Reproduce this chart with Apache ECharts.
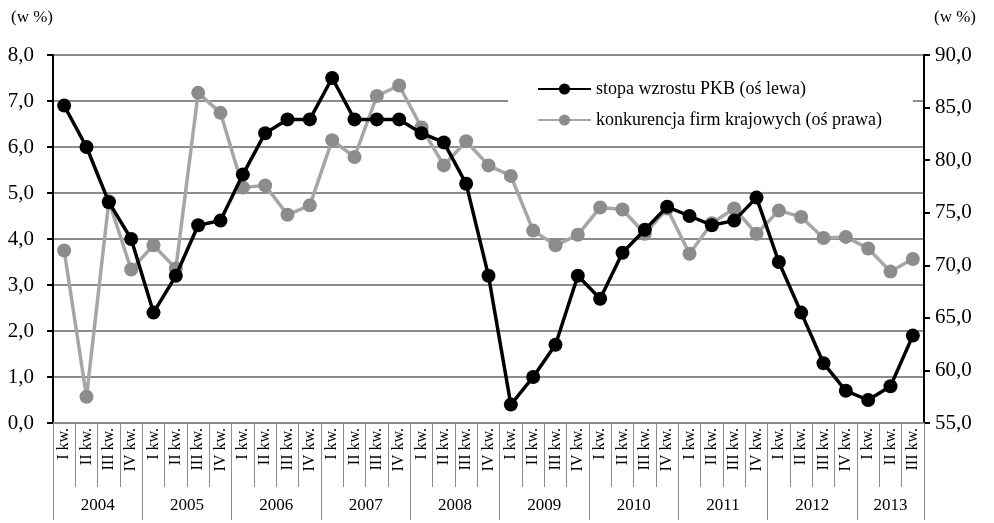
<!DOCTYPE html>
<html><head><meta charset="utf-8">
<script src="https://cdn.jsdelivr.net/npm/echarts@6/dist/echarts.min.js"></script>
<style>html,body{margin:0;padding:0;background:#fff}#c{width:994px;height:523px}</style>
</head><body><div id="c"></div>
<script>
var years = ['2004','2005','2006','2007','2008','2009','2010','2011','2012','2013'];
var quarterNames = ['I kw.','II kw.','III kw.','IV kw.'];
var quarterCounts = [4,4,4,4,4,4,4,4,4,3];
var gdp = [6.9,6.0,4.8,4.0, 2.4,3.2,4.3,4.4, 5.4,6.3,6.6,6.6, 7.5,6.6,6.6,6.6,
           6.3,6.1,5.2,3.2, 0.4,1.0,1.7,3.2, 2.7,3.7,4.2,4.7, 4.5,4.3,4.4,4.9,
           3.5,2.4,1.3,0.7, 0.5,0.8,1.9];
var competition = [71.4,57.5,76.1,69.6, 71.9,69.7,86.4,84.5, 77.4,77.6,74.8,75.7,
                   81.9,80.3,86.1,87.1, 83.1,79.5,81.8,79.5, 78.5,73.3,71.9,72.9,
                   75.5,75.3,73.0,75.4, 71.1,74.0,75.4,73.0, 75.2,74.6,72.6,72.7,
                   71.6,69.4,70.6];
var seriesNames = ['stopa wzrostu PKB (oś lewa)','konkurencja firm krajowych (oś prawa)'];
var unitLabel = '(w %)';

var quarters = [];
quarterCounts.forEach(function(n){ for (var i=0;i<n;i++) quarters.push(quarterNames[i]); });
// half-quarter boundary grid for the year axis
var yearAxisData = [];
var total = quarters.length * 2 + 1;
for (var k=0;k<total;k++) yearAxisData.push('');
var yearTickIdx = [0];
var pos = 0;
quarterCounts.forEach(function(n, i){
  yearAxisData[pos + n] = years[i];
  pos += 2*n;
  yearTickIdx.push(pos);
});

var font = 'Liberation Serif';
var fmt = function(v){return v.toFixed(1).replace('.',',');};
var chart = echarts.init(document.getElementById('c'), null, {renderer:'canvas'});
chart.setOption({
  animation:false,
  textStyle:{fontFamily:font},
  grid:{left:53,right:70,top:55,bottom:100},
  legend:{
    orient:'vertical', left:508, top:75, padding:[5,31,5,29],
    backgroundColor:'#fff', itemGap:13, itemWidth:53, itemHeight:14,
    textStyle:{fontFamily:font,fontSize:18,color:'#000'},
    data:seriesNames
  },
  xAxis:[{
    type:'category', data:quarters, boundaryGap:true,
    axisLine:{show:true,lineStyle:{color:'#8c8c8c',width:2}},
    axisTick:{show:true,interval:0,length:64,lineStyle:{color:'#8c8c8c',width:1}},
    axisLabel:{interval:0,rotate:90,margin:5,fontFamily:font,fontSize:16,color:'#000'},
    splitLine:{show:false}
  },{
    type:'category', data:yearAxisData, boundaryGap:false, position:'bottom',
    axisLine:{show:false},
    axisTick:{show:true,length:97,interval:function(i){return yearTickIdx.indexOf(i)>=0;},
      lineStyle:{color:'#8c8c8c',width:1}},
    axisLabel:{interval:function(i,v){return v!=='';},margin:74,fontFamily:font,fontSize:17,color:'#000'},
    splitLine:{show:false}
  }],
  yAxis:[{
    type:'value', min:0, max:8, interval:1, position:'left',
    name:unitLabel, nameLocation:'end', nameGap:29,
    nameTextStyle:{fontFamily:font,fontSize:17,color:'#000',align:'right',padding:[0,0,0,0]},
    axisLine:{show:true,lineStyle:{color:'#000',width:2}},
    axisTick:{show:true,length:6,lineStyle:{color:'#000',width:2}},
    axisLabel:{formatter:fmt,fontFamily:font,fontSize:21,color:'#000',margin:19},
    splitLine:{show:true,lineStyle:{color:'#8c8c8c',width:2}}
  },{
    type:'value', min:55, max:90, interval:5, position:'right',
    name:unitLabel, nameLocation:'end', nameGap:29,
    nameTextStyle:{fontFamily:font,fontSize:17,color:'#000',align:'left',padding:[0,0,0,10]},
    axisLine:{show:true,lineStyle:{color:'#000',width:2}},
    axisTick:{show:true,length:6,lineStyle:{color:'#000',width:2}},
    axisLabel:{formatter:fmt,fontFamily:font,fontSize:21,color:'#000',margin:11},
    splitLine:{show:false}
  }],
  series:[{
    name:seriesNames[0], type:'line', xAxisIndex:0, yAxisIndex:0, data:gdp,
    symbol:'circle', symbolSize:14, z:3,
    lineStyle:{color:'#000',width:3.5}, itemStyle:{color:'#000'}
  },{
    name:seriesNames[1], type:'line', xAxisIndex:0, yAxisIndex:1, data:competition,
    symbol:'circle', symbolSize:14, z:2,
    lineStyle:{color:'#a6a6a6',width:3.5}, itemStyle:{color:'#8c8c8c'}
  }]
});
</script></body></html>
